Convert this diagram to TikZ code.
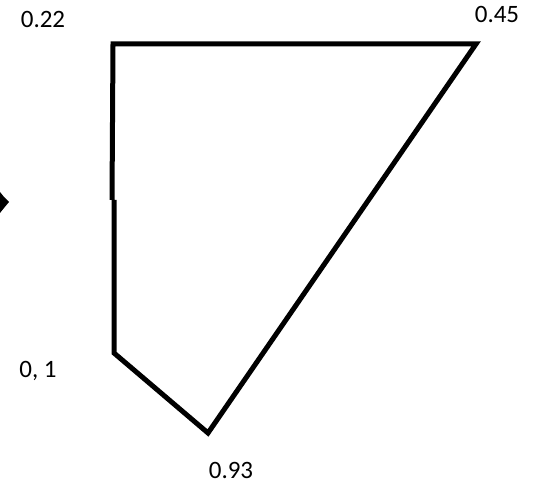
\documentclass[tikz,border=0pt]{standalone}
\usepackage{fontspec}
\setmainfont{Carlito}
\begin{document}
\begin{tikzpicture}[
  x=1pt, y=-1pt,
  every node/.style={font=\fontsize{25}{30}\selectfont, inner sep=0pt},
  edge/.style={draw, line width=5pt, line join=miter},
  vlabel/.style={anchor=base},
]
\useasboundingbox (0,0) rectangle (543,486);

% corners of the shape
\coordinate (tl) at (113,44);
\coordinate (tr) at (476,44);
\coordinate (bt) at (208,433);
\coordinate (bl) at (114,353);
\coordinate (jt) at (112,200);
\coordinate (jb) at (114,200);

\draw[edge] (jt) -- (tl) -- (tr) -- (bt) -- (bl) -- (jb);
\draw[edge] (jt) -- (jb);

% corner values
\node[vlabel] (l22) at (43,28) {0.22};
\node[vlabel] (l45) at (497,23) {0.45};
\node[vlabel] (l01) at (38,377) {0, 1};
\node[vlabel] (l93) at (231,478) {0.93};

% cut-off tip on the left edge
\fill (0,192) -- (4,197) -- (9,202) -- (4,208) -- (0,213) -- cycle;
\end{tikzpicture}
\end{document}
